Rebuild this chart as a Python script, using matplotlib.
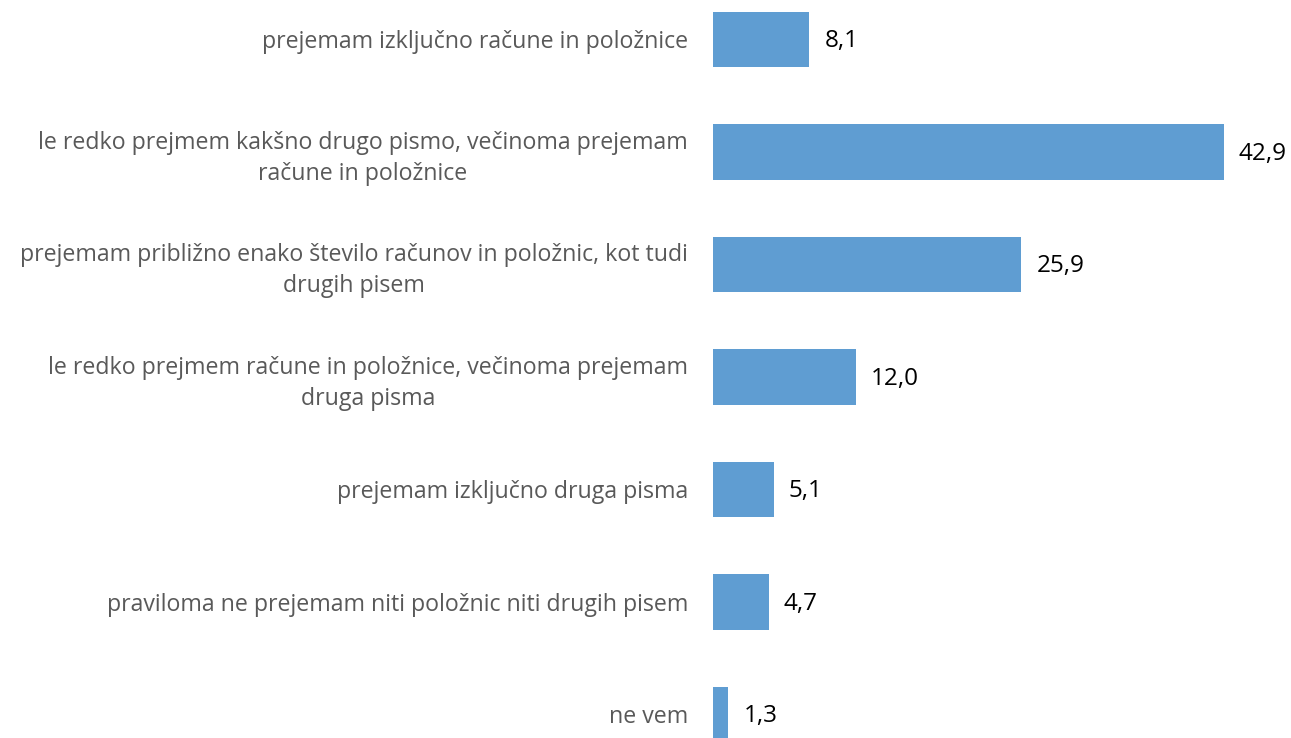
import matplotlib
matplotlib.use("Agg")
import matplotlib.pyplot as plt

categories = [
    "prejemam izključno račune in položnice",
    "le redko prejmem kakšno drugo pismo, večinoma prejemam\nračune in položnice",
    "prejemam približno enako število računov in položnic, kot tudi\ndrugih pisem",
    "le redko prejmem račune in položnice, večinoma prejemam\ndruga pisma",
    "prejemam izključno druga pisma",
    "praviloma ne prejemam niti položnic niti drugih pisem",
    "ne vem",
]
values = [8.1, 42.9, 25.9, 12.0, 5.1, 4.7, 1.3]
value_labels = ["8,1", "42,9", "25,9", "12,0", "5,1", "4,7", "1,3"]

plt.rcParams['font.family'] = ['Open Sans', 'DejaVu Sans']

W, H = 1291, 738
fig = plt.figure(figsize=(W / 100, H / 100), dpi=100)
px_per_unit = 11.91
xmax = 48
left = 713 / W
width = xmax * px_per_unit / W
ax = fig.add_axes([left, 0, width, 1])

pos = list(range(len(categories)))
ax.barh(pos, values, height=0.49, color="#5F9DD2")
ax.set_xlim(0, xmax)
ax.set_ylim(6.209, -0.351)

ax.set_yticks(pos)
ax.set_yticklabels(categories, fontsize=16.7, color="#595959", multialignment="center",
                   linespacing=1.38)
ax.tick_params(axis="y", length=0, pad=18)
ax.set_xticks([])
for s in ax.spines.values():
    s.set_visible(False)

for p, v, lab in zip(pos, values, value_labels):
    ax.annotate(lab, (v, p), xytext=(15, -2), textcoords="offset pixels",
                ha="left", va="center", fontsize=17.5, color="black")

fig.savefig("out.png", dpi=100)
